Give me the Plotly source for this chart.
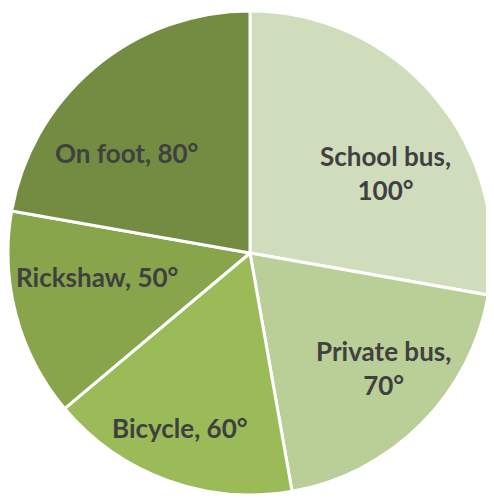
import plotly.graph_objects as go

# Mode of transport and angle of each sector (degrees)
modes = ["School bus", "Private bus", "Bicycle", "Rickshaw", "On foot"]
angles = [100, 70, 60, 50, 80]
colors = ["#d0ddbd", "#bacf98", "#9bbb59", "#88a54c", "#738c42"]

# page body has an 8px margin, so the figure is a little smaller
OFF = 8
W, H = 494 - OFF, 498 - OFF

# pie centre (250, 253) page px, radius ~242
cx, cy, r = 250 - OFF, 253 - OFF, 242

fig = go.Figure(go.Pie(
    labels=modes,
    values=angles,
    sort=False,
    direction="clockwise",
    rotation=0,
    marker=dict(colors=colors, line=dict(color="white", width=3)),
    textinfo="none",
    hoverinfo="label+value",
    showlegend=False,
    domain=dict(x=[(cx - r) / W, (cx + r) / W],
                y=[1 - (cy + r) / H, 1 - (cy - r) / H]),
))

# label text centres in page pixels, as Excel placed them
label_pos = {
    "School bus": (385, 173, "School bus,<br>100°"),
    "Private bus": (383, 368, "Private bus,<br>70°"),
    "Bicycle": (180, 428, "Bicycle, 60°"),
    "Rickshaw": (97, 277, "Rickshaw, 50°"),
    "On foot": (126, 153, "On foot, 80°"),
}
for m in modes:
    x, y, txt = label_pos[m]
    fig.add_annotation(
        x=(x - OFF) / W, y=1 - (y - OFF) / H, xref="paper", yref="paper",
        text="<b>" + txt + "</b>", showarrow=False,
        font=dict(family="Lato", size=26, color="#404040"),
        xanchor="center", yanchor="middle", align="center",
    )

fig.update_layout(
    width=W, height=H,
    margin=dict(l=0, r=0, t=0, b=0),
    paper_bgcolor="white",
    plot_bgcolor="white",
)

fig.write_html("out.html")
